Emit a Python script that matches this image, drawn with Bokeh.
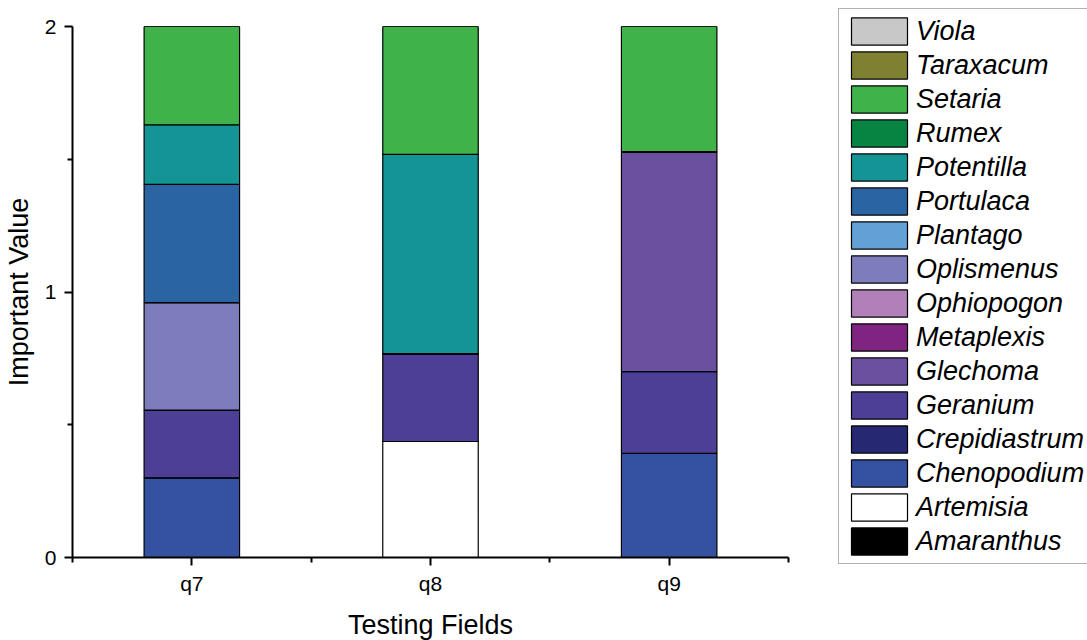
from bokeh.plotting import figure
from bokeh.models import FixedTicker, Legend, LegendItem, ColumnDataSource
from bokeh.embed import file_html
from bokeh.resources import INLINE

fields = ["q7", "q8", "q9"]
species = ["Amaranthus", "Artemisia", "Chenopodium", "Crepidiastrum", "Geranium",
           "Glechoma", "Metaplexis", "Ophiopogon", "Oplismenus", "Plantago",
           "Portulaca", "Potentilla", "Rumex", "Setaria", "Taraxacum", "Viola"]
colors = ["#000000", "#FFFFFF", "#3452A1", "#262872", "#4E3F96",
          "#6C50A0", "#7F2480", "#B280B9", "#7E7DBC", "#63A0D6",
          "#2B64A3", "#149494", "#088442", "#40B24A", "#808033", "#C8C8C8"]
Amaranthus = [0, 0, 0]
Artemisia = [0, 0.437, 0]
Chenopodium = [0.30, 0, 0.392]
Crepidiastrum = [0, 0, 0]
Geranium = [0.255, 0.331, 0.308]
Glechoma = [0, 0, 0.829]
Metaplexis = [0, 0, 0]
Ophiopogon = [0, 0, 0]
Oplismenus = [0.405, 0, 0]
Plantago = [0, 0, 0]
Portulaca = [0.445, 0, 0]
Potentilla = [0.225, 0.75, 0]
Rumex = [0, 0, 0]
Setaria = [0.37, 0.482, 0.471]
Taraxacum = [0, 0, 0]
Viola = [0, 0, 0]
values = [Amaranthus, Artemisia, Chenopodium, Crepidiastrum, Geranium, Glechoma,
          Metaplexis, Ophiopogon, Oplismenus, Plantago, Portulaca, Potentilla,
          Rumex, Setaria, Taraxacum, Viola]
y_ticks = [0, 1, 2]

xpos = [i + 1 for i in range(len(fields))]
data = {"x": xpos}
for name, vals in zip(species, values):
    data[name] = vals
src = ColumnDataSource(data)

FONT = "Liberation Sans"
p = figure(output_backend="svg", toolbar_location=None,
           x_range=(0.5, len(fields) + 0.5), y_range=(0, 2),
           frame_width=716, frame_height=531,
           min_border_top=26, min_border_left=0, min_border_right=299, min_border_bottom=0)
p.outline_line_color = None
p.grid.visible = False
p.background_fill_color = "white"
p.border_fill_color = "white"

renderers = p.vbar_stack(species, x="x", width=0.4, source=src, fill_color=colors,
                         line_color="black", line_width=1.2)

p.xaxis.ticker = FixedTicker(ticks=xpos, minor_ticks=[x - 0.5 for x in xpos] + [xpos[-1] + 0.5])
p.xaxis.major_label_overrides = {x: f for x, f in zip(xpos, fields)}
p.yaxis.ticker = FixedTicker(ticks=y_ticks, minor_ticks=[0.5, 1.5])
for ax in (p.xaxis[0], p.yaxis[0]):
    ax.axis_line_width = 2
    ax.axis_line_color = "black"
    ax.major_tick_line_width = 2
    ax.minor_tick_line_width = 2
    ax.major_tick_out = 8
    ax.major_tick_in = 0
    ax.minor_tick_out = 5
    ax.minor_tick_in = 0
    ax.major_label_text_font = FONT
    ax.major_label_text_font_size = "21px"
    ax.major_label_text_color = "black"
    ax.axis_label_text_font = FONT
    ax.axis_label_text_font_size = "27px"
    ax.axis_label_text_font_style = "normal"
    ax.axis_label_text_color = "black"
p.xaxis.axis_label = "Testing Fields"
p.yaxis.axis_label = "Important Value"
p.xaxis.major_label_standoff = 6
p.xaxis.axis_label_standoff = 12
p.yaxis.major_label_standoff = 8
p.yaxis.axis_label_standoff = 8

items = [LegendItem(label=name, renderers=[r]) for name, r in zip(species, renderers)]
items.reverse()
legend = Legend(items=items, location=(50, -7), orientation="vertical",
                glyph_width=70, glyph_height=34, label_height=30, spacing=0,
                padding=5, margin=0, label_standoff=2,
                label_text_font=FONT, label_text_font_size="27px",
                label_text_font_style="italic", label_text_color="black",
                border_line_color="#666666", border_line_width=1.5,
                background_fill_color="white", background_fill_alpha=1)
p.add_layout(legend, "right")

open("out.html", "w").write(file_html(p, INLINE))
